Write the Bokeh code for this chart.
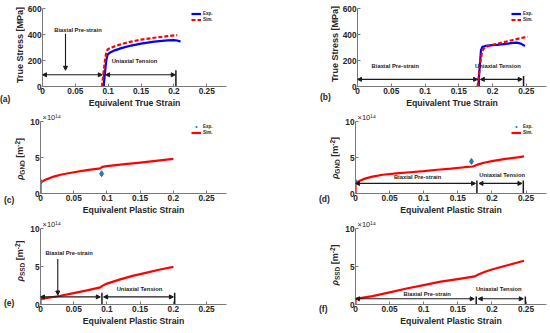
import math
from bokeh.plotting import figure
from bokeh.layouts import column, row
from bokeh.models import (Range1d, FixedTicker, Label, Arrow, NormalHead, Legend, LegendItem,
                          Title, Div)
from bokeh.embed import file_html
from bokeh.resources import INLINE

FONT = "Liberation Sans"
AXC = "#262626"
ARC = "#1a1a1a"
BLUE = "#0000ff"
RED = "#ff0000"
PT = "#2878b4"

# ---------------- data ----------------
x_ticks = [0, 0.05, 0.1, 0.15, 0.2, 0.25]
x_tick_labels = ["0", "0.05", "0.1", "0.15", "0.2", "0.25"]
stress_ticks = [0, 200, 400, 600]
rho_ticks = [0, 5, 10]

# (a) stress-strain, 0.09 pre-strain
a_exp_x = [0.093, 0.095, 0.097, 0.099, 0.103, 0.11, 0.12, 0.135, 0.15, 0.17, 0.19, 0.2, 0.205, 0.21]
a_exp_y = [0, 100, 200, 245, 262, 278, 295, 315, 330, 345, 355, 357, 354, 345]
a_sim_x = [0.0905, 0.093, 0.095, 0.097, 0.0985, 0.1, 0.105, 0.115, 0.13, 0.15, 0.17, 0.19, 0.205]
a_sim_y = [0, 110, 200, 260, 280, 288, 300, 318, 340, 360, 375, 387, 395]

# (b) stress-strain, 0.18 pre-strain
b_exp_x = [0.179, 0.181, 0.183, 0.185, 0.19, 0.2, 0.21, 0.22, 0.23, 0.236, 0.242, 0.248]
b_exp_y = [0, 150, 280, 305, 312, 318, 322, 328, 335, 337, 330, 312]
b_sim_x = [0.178, 0.180, 0.182, 0.184, 0.186, 0.19, 0.2, 0.21, 0.22, 0.23, 0.24, 0.252]
b_sim_y = [0, 100, 190, 250, 285, 305, 320, 333, 345, 358, 370, 383]

# (c) GND density, 0.09 pre-strain (x1e14)
c_sim_x = [0, 0, 0.002, 0.005, 0.01, 0.02, 0.03, 0.05, 0.07, 0.09, 0.093, 0.1, 0.12, 0.15, 0.18, 0.2]
c_sim_y = [0, 1.45, 1.6, 1.8, 2.0, 2.35, 2.6, 2.95, 3.25, 3.5, 3.7, 3.8, 4.0, 4.3, 4.6, 4.8]
c_exp_x = [0, 0.092]
c_exp_y = [1.6, 2.75]
c_exp_err = [0.15, 0.2]

# (d) GND density, 0.18 pre-strain (x1e14)
d_sim_x = [0, 0, 0.003, 0.008, 0.015, 0.025, 0.04, 0.06, 0.08, 0.1, 0.12, 0.14, 0.16, 0.172, 0.176,
           0.18, 0.19, 0.2, 0.22, 0.24, 0.247]
d_sim_y = [0, 1.35, 1.6, 1.85, 2.1, 2.35, 2.6, 2.8, 2.95, 3.1, 3.3, 3.45, 3.65, 3.75, 3.9,
           4.05, 4.3, 4.5, 4.8, 5.05, 5.15]
d_exp_x = [0, 0.17]
d_exp_y = [1.6, 4.45]
d_exp_err = [0.1, 0.25]

# (e) SSD density, 0.09 pre-strain (x1e14)
e_sim_x = [0, 0, 0.01, 0.03, 0.05, 0.07, 0.09, 0.093, 0.1, 0.12, 0.14, 0.16, 0.18, 0.2]
e_sim_y = [0, 0.7, 0.85, 1.15, 1.5, 1.85, 2.25, 2.45, 2.75, 3.3, 3.8, 4.2, 4.6, 4.95]

# (f) SSD density, 0.18 pre-strain (x1e14)
f_sim_x = [0, 0, 0.025, 0.05, 0.075, 0.1, 0.125, 0.15, 0.175, 0.18, 0.19, 0.2, 0.22, 0.247]
f_sim_y = [0, 0.75, 1.1, 1.6, 2.1, 2.55, 3.0, 3.35, 3.7, 3.95, 4.3, 4.6, 5.1, 5.75]

# phase annotations (data units)
a_phase = dict(y=90, pre_end=0.091, ten_start=0.096, ten_end=0.202, bars=[0.0935, 0.203], bar_top=125)
b_phase = dict(y=55, pre_end=0.178, ten_start=0.182, ten_end=0.244, bars=[0.18, 0.246], bar_top=80)
d_phase = dict(y=1.4, pre_end=0.176, ten_start=0.181, ten_end=0.244, bars=[0.178, 0.246], bar_top=1.8)
e_phase = dict(y=1.0, pre_end=0.09, ten_start=0.095, ten_end=0.2, bars=[0.0925, 0.202], bar_top=1.55)
f_phase = dict(y=0.75, pre_end=0.174, ten_start=0.18, ten_end=0.246, bars=[0.177, 0.249], bar_top=1.05)

ROW_H = [110, 107, 111]
LDIV_W, LFIG_W, RDIV_W, RFIG_W = 24, 291, 24, 209


def make_fig(w, h, br, bt, ymax, yticks):
    p = figure(width=w, height=h, x_range=Range1d(0, 0.28), y_range=Range1d(0, ymax),
               output_backend="svg", toolbar_location=None,
               min_border_left=16, min_border_right=br, min_border_top=bt, min_border_bottom=20)
    p.outline_line_color = None
    p.grid.visible = False
    p.xaxis.ticker = FixedTicker(ticks=x_ticks)
    p.xaxis.major_label_overrides = {float(t): s for t, s in zip(x_ticks, x_tick_labels)}
    p.yaxis.ticker = FixedTicker(ticks=yticks)
    for ax in (p.xaxis[0], p.yaxis[0]):
        ax.axis_line_color = "#7a7a7a"
        ax.major_tick_line_color = "#7a7a7a"
        ax.major_tick_in = 3
        ax.major_tick_out = 0
        ax.minor_tick_line_color = None
        ax.major_label_text_font = FONT
        ax.major_label_text_font_style = "bold"
        ax.major_label_text_font_size = "8.3px"
        ax.major_label_text_color = AXC
        ax.major_label_standoff = 1
        ax.axis_label_text_font = FONT
        ax.axis_label_text_font_style = "bold"
        ax.axis_label_text_font_size = "8.7px"
        ax.axis_label_text_color = AXC
        ax.axis_label_standoff = 1
    return p


def txt(p, x, y, s, size="5.8px"):
    p.add_layout(Label(x=x, y=y, text=s, text_font=FONT, text_font_style="bold",
                       text_font_size=size, text_color=ARC, text_align="center",
                       text_baseline="middle"))


def head():
    return NormalHead(size=4, fill_color=ARC, line_color=ARC, line_width=1)


def harrow(p, x0, x1, y):
    p.add_layout(Arrow(start=head(), end=head(), x_start=x0, y_start=y, x_end=x1, y_end=y,
                       line_color=ARC, line_width=1.1))


def phases(p, ph):
    harrow(p, 0, ph["pre_end"], ph["y"])
    harrow(p, ph["ten_start"], ph["ten_end"], ph["y"])
    p.segment(x0=ph["bars"], y0=[0, 0], x1=ph["bars"], y1=[ph["bar_top"]] * 2,
              line_color=ARC, line_width=1.5)


def varrow(p, x, y0, y1):
    p.add_layout(Arrow(end=head(), x_start=x, y_start=y0, x_end=x, y_end=y1,
                       line_color=ARC, line_width=1.1))


def legend(p, items):
    leg = Legend(items=items, location="top_right", label_text_font=FONT,
                 label_text_font_size="4.5px", label_text_font_style="bold", label_text_color=AXC,
                 glyph_width=10, glyph_height=5, label_height=5, label_standoff=2,
                 spacing=1, padding=0, margin=3, border_line_color=None, background_fill_alpha=0)
    p.add_layout(leg)


def exponent(p):
    p.add_layout(Title(text="×10¹⁴", align="left", offset=2, standoff=0, text_font=FONT,
                       text_font_size="7.5px", text_font_style="normal", text_color=AXC), "above")


def side_div(w, h, tag, tag_left, tag_top, ylabel_html, lx, ly):
    html = (
        f'<div style="position:relative;width:{w}px;height:{h}px;font-family:\'{FONT}\';'
        f'font-weight:bold;color:{AXC};">'
        f'<div style="position:absolute;left:{tag_left}px;top:{tag_top}px;font-size:8.5px;line-height:10px;">{tag}</div>'
        f'<div style="position:absolute;left:{lx}px;top:{ly}px;transform:translate(-50%,-50%) rotate(-90deg);'
        f'white-space:nowrap;font-size:9px;line-height:10px;">{ylabel_html}</div>'
        f'</div>'
    )
    return Div(text=html, width=w, height=h, margin=(0, 0, 0, 0))


STRESS_LBL = "True Stress [MPa]"
GND_LBL = ('<i>ρ</i><sub style="font-size:6.5px;vertical-align:-2px;">GND</sub> '
           '[m<sup style="font-size:6.5px;vertical-align:3px;">-2</sup>]')
SSD_LBL = ('<i>ρ</i><sub style="font-size:6.5px;vertical-align:-2px;">SSD</sub> '
           '[m<sup style="font-size:6.5px;vertical-align:3px;">-2</sup>]')


def exp_points(p, xs, ys, errs):
    p.segment(x0=xs, y0=[y - e for y, e in zip(ys, errs)], x1=xs, y1=[y + e for y, e in zip(ys, errs)],
              line_color=PT, line_width=1)
    return p.scatter(xs, ys, marker="diamond", size=6, fill_color=PT, line_color=PT)


# ---------------- (a) ----------------
pa = make_fig(LFIG_W, ROW_H[0], 89, 8, 600, stress_ticks)
pa.xaxis.axis_label = "Equivalent True Strain"
phases(pa, a_phase)
varrow(pa, 0.035, 405, 125)
txt(pa, 0.054, 432, "Biaxial Pre-strain")
txt(pa, 0.14, 197, "Uniaxial Tension")
ra1 = pa.line(a_exp_x, a_exp_y, line_color=BLUE, line_width=2.2)
ra2 = pa.line(a_sim_x, a_sim_y, line_color=RED, line_width=2.2, line_dash="4 2")
legend(pa, [LegendItem(label="Exp.", renderers=[ra1]), LegendItem(label="Sim.", renderers=[ra2])])
da = side_div(LDIV_W, ROW_H[0], "(a)", 0, 94, STRESS_LBL, 20, 45)

# ---------------- (b) ----------------
pb = make_fig(RFIG_W, ROW_H[0], 2, 5, 600, stress_ticks)
pb.xaxis.axis_label = "Equivalent True Strain"
phases(pb, b_phase)
txt(pb, 0.056, 158, "Biaxial Pre-strain")
txt(pb, 0.208, 158, "Uniaxial Tension")
rb1 = pb.line(b_exp_x, b_exp_y, line_color=BLUE, line_width=2.2)
rb2 = pb.line(b_sim_x, b_sim_y, line_color=RED, line_width=2.2, line_dash="4 2")
legend(pb, [LegendItem(label="Exp.", renderers=[rb1]), LegendItem(label="Sim.", renderers=[rb2])])
db = side_div(RDIV_W, ROW_H[0], "(b)", 5, 92, STRESS_LBL, 20, 44)

# ---------------- (c) ----------------
pc = make_fig(LFIG_W, ROW_H[1], 89, 0, 10, rho_ticks)
pc.xaxis.axis_label = "Equivalent Plastic Strain"
exponent(pc)
rc2 = pc.line(c_sim_x, c_sim_y, line_color=RED, line_width=2.2)
rc1 = exp_points(pc, c_exp_x, c_exp_y, c_exp_err)
legend(pc, [LegendItem(label="Exp.", renderers=[rc1]), LegendItem(label="Sim.", renderers=[rc2])])
dc = side_div(LDIV_W, ROW_H[1], "(c)", 4, 85, GND_LBL, 20, 49)

# ---------------- (d) ----------------
pd_ = make_fig(RFIG_W, ROW_H[1], 2, 0, 10, rho_ticks)
pd_.xaxis.axis_label = "Equivalent Plastic Strain"
exponent(pd_)
phases(pd_, d_phase)
txt(pd_, 0.091, 2.25, "Biaxial Pre-strain")
txt(pd_, 0.215, 2.55, "Uniaxial Tension")
rd2 = pd_.line(d_sim_x, d_sim_y, line_color=RED, line_width=2.2)
rd1 = exp_points(pd_, d_exp_x, d_exp_y, d_exp_err)
legend(pd_, [LegendItem(label="Exp.", renderers=[rd1]), LegendItem(label="Sim.", renderers=[rd2])])
dd = side_div(RDIV_W, ROW_H[1], "(d)", 4, 84, GND_LBL, 20, 48)

# ---------------- (e) ----------------
pe = make_fig(LFIG_W, ROW_H[2], 89, 0, 10, rho_ticks)
pe.xaxis.axis_label = "Equivalent Plastic Strain"
exponent(pe)
phases(pe, e_phase)
varrow(pe, 0.026, 6.0, 1.25)
txt(pe, 0.043, 6.8, "Biaxial Pre-strain")
txt(pe, 0.149, 2.1, "Uniaxial Tension")
pe.line(e_sim_x, e_sim_y, line_color=RED, line_width=2.2)
de = side_div(LDIV_W, ROW_H[2], "(e)", 4, 81, SSD_LBL, 20, 44)

# ---------------- (f) ----------------
pf = make_fig(RFIG_W, ROW_H[2], 2, 0, 10, rho_ticks)
pf.xaxis.axis_label = "Equivalent Plastic Strain"
exponent(pf)
phases(pf, f_phase)
txt(pf, 0.105, 1.35, "Biaxial Pre-strain")
txt(pf, 0.21, 2.1, "Uniaxial Tension")
pf.line(f_sim_x, f_sim_y, line_color=RED, line_width=2.2)
df = side_div(RDIV_W, ROW_H[2], "(f)", 4, 87, SSD_LBL, 20, 48)

layout = column(row(da, pa, db, pb), row(dc, pc, dd, pd_), row(de, pe, df, pf))
open("out.html", "w").write(file_html(layout, INLINE))
